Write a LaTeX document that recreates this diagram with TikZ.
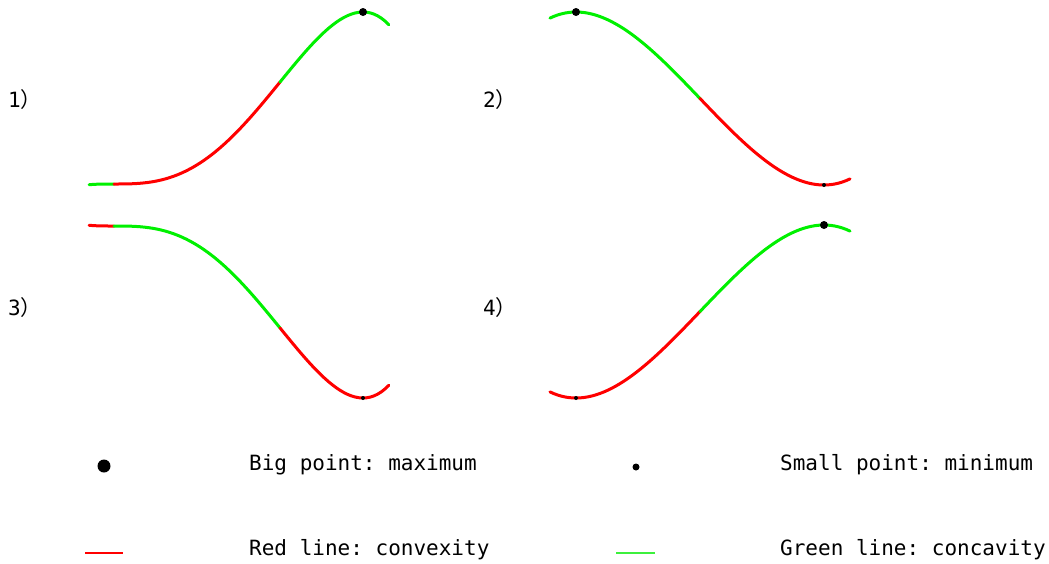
\documentclass[tikz,border=0pt]{standalone}
\usepackage{fontspec}
\setmonofont{DejaVu Sans Mono}
\newfontfamily\cjk{Noto Sans CJK SC}
\usetikzlibrary{positioning}
\definecolor{convexred}{RGB}{255,0,0}
\definecolor{concavegreen}{RGB}{0,240,0}
\definecolor{keygreen}{RGB}{60,240,60}

\begin{document}
\begin{tikzpicture}[x=1pt,y=-1pt,
        convex/.style={line width=3pt,draw=convexred,line cap=round},
        concave/.style={line width=3pt,draw=concavegreen,line cap=round},
        tag/.style={anchor=west,inner sep=0pt,font=\ttfamily\fontsize{21}{25}\selectfont},
        bigdot/.style={circle,fill=black,inner sep=0pt,minimum size=8pt},
        smalldot/.style={circle,fill=black,inner sep=0pt,minimum size=4pt}]
    \useasboundingbox (0,0) rectangle (1049,563);
    % 1) flat inflection, then maximum
    \begin{scope}
        \draw[concave] plot[domain=-0.075:0,samples=10] ({114+332*\x},{184-1630.8*\x*\x*\x*(1-\x)});
        \draw[convex] plot[domain=0:0.5,samples=40] ({114+332*\x},{184-1630.8*\x*\x*\x*(1-\x)});
        \draw[concave] plot[domain=0.5:0.828,samples=30] ({114+332*\x},{184-1630.8*\x*\x*\x*(1-\x)});
        \node[bigdot] (max1) at (363,12) {};
        \node[tag] (lab1) at (8,100) {1\cjk{）}};
    \end{scope}
    % 2) maximum, then minimum
    \begin{scope}
        \draw[concave] plot[domain=-1.21:0,samples=40] ({700+124*\x},{98.5-43.25*(\x*\x*\x-3*\x)});
        \draw[convex] plot[domain=0:1.21,samples=40] ({700+124*\x},{98.5-43.25*(\x*\x*\x-3*\x)});
        \node[bigdot] (max2) at (576,12) {};
        \node[smalldot] (min2) at (824,185) {};
        \node[tag] (lab2) at (483,100) {2\cjk{）}};
    \end{scope}
    % 3) flat inflection, then minimum
    \begin{scope}
        \draw[convex] plot[domain=-0.075:0,samples=10] ({114+332*\x},{226+1630.8*\x*\x*\x*(1-\x)});
        \draw[concave] plot[domain=0:0.5,samples=40] ({114+332*\x},{226+1630.8*\x*\x*\x*(1-\x)});
        \draw[convex] plot[domain=0.5:0.828,samples=30] ({114+332*\x},{226+1630.8*\x*\x*\x*(1-\x)});
        \node[smalldot] (min3) at (363,398) {};
        \node[tag] (lab3) at (8,308) {3\cjk{）}};
    \end{scope}
    % 4) minimum, then maximum
    \begin{scope}
        \draw[convex] plot[domain=-1.21:0,samples=40] ({700+124*\x},{311.5+43.25*(\x*\x*\x-3*\x)});
        \draw[concave] plot[domain=0:1.21,samples=40] ({700+124*\x},{311.5+43.25*(\x*\x*\x-3*\x)});
        \node[smalldot] (min4) at (576,398) {};
        \node[bigdot] (max4) at (824,225) {};
        \node[tag] (lab4) at (483,308) {4\cjk{）}};
    \end{scope}
    % legend
    \node[circle,fill=black,inner sep=0pt,minimum size=13pt] (keymax) at (104,466) {};
    \node[tag] (txtmax) at (249,465) {Big point: maximum};
    \node[circle,fill=black,inner sep=0pt,minimum size=7pt] (keymin) at (636,467) {};
    \node[tag] (txtmin) at (780,465) {Small point: minimum};
    \coordinate (redA) at (85,553);
    \coordinate (redB) at (123,553);
    \draw[draw=convexred,line width=1.1pt] (redA) -- (redB);
    \node[tag] (txtred) at (249,550) {Red line: convexity};
    \coordinate (greenA) at (616,553);
    \coordinate (greenB) at (655,553);
    \draw[draw=keygreen,line width=1.1pt] (greenA) -- (greenB);
    \node[tag] (txtgreen) at (780,550) {Green line: concavity};
\end{tikzpicture}
\end{document}
